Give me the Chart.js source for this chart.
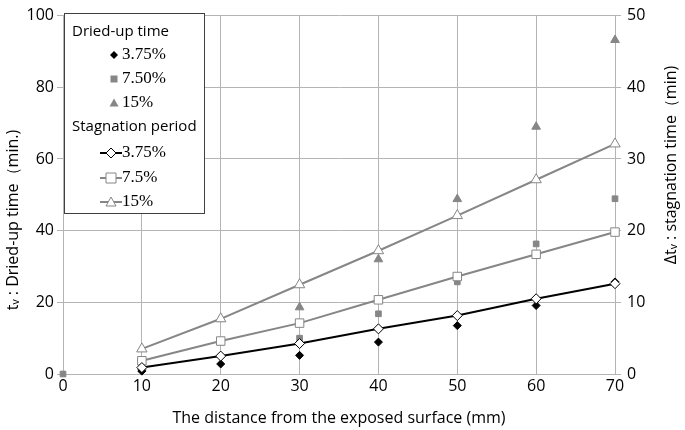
<!DOCTYPE html>
<html>
<head>
<meta charset="utf-8">
<script src="https://cdn.jsdelivr.net/npm/chart.js@4"></script>
<style>
  body { margin: 0; background: #fff; }
  #wrap { width: 685px; height: 430px; }
</style>
</head>
<body>
<div id="wrap"><canvas id="chartDry"></canvas></div>
<script>
// distance from exposed surface (mm)
const jarak = [10, 20, 30, 40, 50, 60, 70];

// dried-up time (left axis, min.)
const dry375 = [0.8, 2.8, 5.2, 8.9, 13.5, 19.1, 25.7];
const dry750 = [1.2, 8.9, 10.0, 16.8, 25.7, 36.3, 48.9];
const dry15 = [1.8, 15.4, 18.6, 32.0, 48.8, 69.0, 93.2];

// stagnation period (right axis, min)
const stag375 = [0.9, 2.5, 4.25, 6.3, 8.15, 10.5, 12.6];
const stag75 = [1.85, 4.6, 7.1, 10.35, 13.6, 16.7, 19.8];
const stag15 = [3.5, 7.7, 12.45, 17.2, 22.1, 27.1, 32.1];

const xTicks = [0, 10, 20, 30, 40, 50, 60, 70];
const leftTicks = [0, 20, 40, 60, 80, 100];
const rightTicks = [0, 10, 20, 30, 40, 50];

const abu = "#868686";
const garis = "#b4b4b4";
const fontTick = "'Open Sans', sans-serif";

// gabungkan x dan y jadi titik
function toPoints(ys, withZero) {
  const pts = jarak.map((x, i) => ({ x: x, y: ys[i] }));
  if (withZero) pts.unshift({ x: 0, y: 0 });
  return pts;
}

// gambar simbol legend secara manual
function drawMarker(ctx, type, x, y, r, fill, stroke) {
  ctx.save();
  ctx.beginPath();
  if (type === "diamond") {
    ctx.moveTo(x, y - r); ctx.lineTo(x + r, y); ctx.lineTo(x, y + r); ctx.lineTo(x - r, y);
  } else if (type === "square") {
    ctx.rect(x - r, y - r, 2 * r, 2 * r);
  } else {
    ctx.moveTo(x, y - r); ctx.lineTo(x + r, y + r * 0.8); ctx.lineTo(x - r, y + r * 0.8);
  }
  ctx.closePath();
  ctx.fillStyle = fill;
  ctx.fill();
  if (stroke) { ctx.strokeStyle = stroke; ctx.lineWidth = 1; ctx.stroke(); }
  ctx.restore();
}

// judul sumbu vertikal (kanan juga dibaca dari bawah ke atas)
const axisTitles = {
  id: "axisTitles",
  afterDraw(chart) {
    const ctx = chart.ctx;
    ctx.save();
    ctx.fillStyle = "#000";
    ctx.font = "16px " + fontTick;
    ctx.textAlign = "center";
    ctx.textBaseline = "middle";
    ctx.translate(13, 220);
    ctx.rotate(-Math.PI / 2);
    ctx.fillText("t\u1d65 : Dried-up time\uff08min.)", 0, 0);
    ctx.restore();
    ctx.save();
    ctx.fillStyle = "#000";
    ctx.font = "16px " + fontTick;
    ctx.textAlign = "center";
    ctx.textBaseline = "middle";
    ctx.translate(671, 165);
    ctx.rotate(-Math.PI / 2);
    ctx.fillText("\u0394t\u1d65 : stagnation time\uff08min)", 0, 0);
    ctx.restore();
  },
};

const legendBox = {
  id: "legendBox",
  afterDraw(chart) {
    const ctx = chart.ctx;
    ctx.save();
    ctx.fillStyle = "#fff";
    ctx.fillRect(64.5, 13.5, 140, 200);
    ctx.strokeStyle = "#404040";
    ctx.lineWidth = 1;
    ctx.strokeRect(64.5, 13.5, 140, 200);
    ctx.fillStyle = "#000";
    ctx.textBaseline = "middle";
    ctx.font = "15px " + fontTick;
    ctx.fillText("Dried-up time", 72, 32);
    ctx.fillText("Stagnation period", 72, 127);
    ctx.font = "17px 'Liberation Serif', serif";
    drawMarker(ctx, "diamond", 114, 55, 4, "#000");
    ctx.fillText("3.75%", 122, 55);
    drawMarker(ctx, "square", 114, 79, 3.5, abu);
    ctx.fillText("7.50%", 122, 79);
    drawMarker(ctx, "tri", 114, 103, 4.5, abu);
    ctx.fillText("15%", 122, 103);
    const rows = [[153, "#000", "diamond", "3.75%"], [178, abu, "square", "7.5%"], [202, abu, "tri", "15%"]];
    rows.forEach((r) => {
      ctx.beginPath();
      ctx.moveTo(100, r[0]); ctx.lineTo(122, r[0]);
      ctx.strokeStyle = r[1]; ctx.lineWidth = 2; ctx.stroke();
      drawMarker(ctx, r[2], 111, r[0], 5, "#fff", r[1]);
      ctx.fillStyle = "#000";
      ctx.fillText(r[3], 122, r[0]);
    });
    ctx.restore();
  },
};

const ctxDry = document.getElementById("chartDry").getContext("2d");

const myChartDry = new Chart(ctxDry, {
  type: "scatter",
  data: {
    datasets: [
      {
        label: "Stagnation 3.75%",
        data: toPoints(stag375),
        yAxisID: "y2",
        showLine: true,
        borderColor: "#000",
        borderWidth: 2,
        pointStyle: "rectRot",
        pointRadius: 5,
        pointBackgroundColor: "#fff",
        pointBorderColor: "#000",
        pointBorderWidth: 1,
        clip: false,
        order: 0,
      },
      {
        label: "Stagnation 7.5%",
        data: toPoints(stag75),
        yAxisID: "y2",
        showLine: true,
        borderColor: abu,
        borderWidth: 2,
        pointStyle: "rect",
        pointRadius: 6,
        pointBackgroundColor: "#fff",
        pointBorderColor: abu,
        pointBorderWidth: 1,
        clip: false,
        order: 1,
      },
      {
        label: "Stagnation 15%",
        data: toPoints(stag15),
        yAxisID: "y2",
        showLine: true,
        borderColor: abu,
        borderWidth: 2,
        pointStyle: "triangle",
        pointRadius: 6,
        pointBackgroundColor: "#fff",
        pointBorderColor: abu,
        pointBorderWidth: 1,
        clip: false,
        order: 2,
      },
      {
        label: "Dried 3.75%",
        data: toPoints(dry375),
        yAxisID: "y",
        pointStyle: "rectRot",
        pointRadius: 4,
        backgroundColor: "#000",
        borderColor: "#000",
        clip: false,
        order: 3,
      },
      {
        label: "Dried 7.50%",
        data: toPoints(dry750, true),
        yAxisID: "y",
        pointStyle: "rect",
        pointRadius: 4,
        backgroundColor: abu,
        borderColor: abu,
        clip: false,
        order: 4,
      },
      {
        label: "Dried 15%",
        data: toPoints(dry15),
        yAxisID: "y",
        pointStyle: "triangle",
        pointRadius: 5,
        backgroundColor: abu,
        borderColor: abu,
        clip: false,
        order: 5,
      },
    ],
  },
  options: {
    responsive: true,
    maintainAspectRatio: false,
    animation: false,
    layout: { padding: { top: 11, right: 0, left: 0, bottom: 0 } },
    scales: {
      x: {
        type: "linear",
        min: 0,
        max: 70,
        afterBuildTicks: (s) => { s.ticks = xTicks.map((v) => ({ value: v })); },
        afterFit: (s) => { s.height = 56; },
        grid: { color: garis, lineWidth: 1, drawTicks: false },
        border: { color: garis },
        ticks: { color: "#000", font: { family: fontTick, size: 16 }, padding: 3 },
        title: {
          display: true,
          text: "The distance from the exposed surface (mm)",
          color: "#000",
          font: { family: fontTick, size: 16 },
          padding: { top: 0, bottom: 2 },
        },
      },
      y: {
        position: "left",
        min: 0,
        max: 100,
        afterBuildTicks: (s) => { s.ticks = leftTicks.map((v) => ({ value: v })); },
        afterFit: (s) => { s.width = 63; },
        grid: { color: garis, lineWidth: 1, tickLength: 6 },
        border: { color: garis },
        ticks: { color: "#000", font: { family: fontTick, size: 16 }, padding: 3 },
        title: { display: false },
      },
      y2: {
        position: "right",
        min: 0,
        max: 50,
        afterBuildTicks: (s) => { s.ticks = rightTicks.map((v) => ({ value: v })); },
        afterFit: (s) => { s.width = 70; },
        grid: { drawOnChartArea: false, color: garis, tickLength: 6 },
        border: { color: garis },
        ticks: { color: "#000", font: { family: fontTick, size: 16 }, padding: 6 },
        title: { display: false },
      },
    },
    plugins: {
      legend: { display: false },
      tooltip: { enabled: false },
    },
  },
  plugins: [axisTitles, legendBox],
});
</script>
</body>
</html>
